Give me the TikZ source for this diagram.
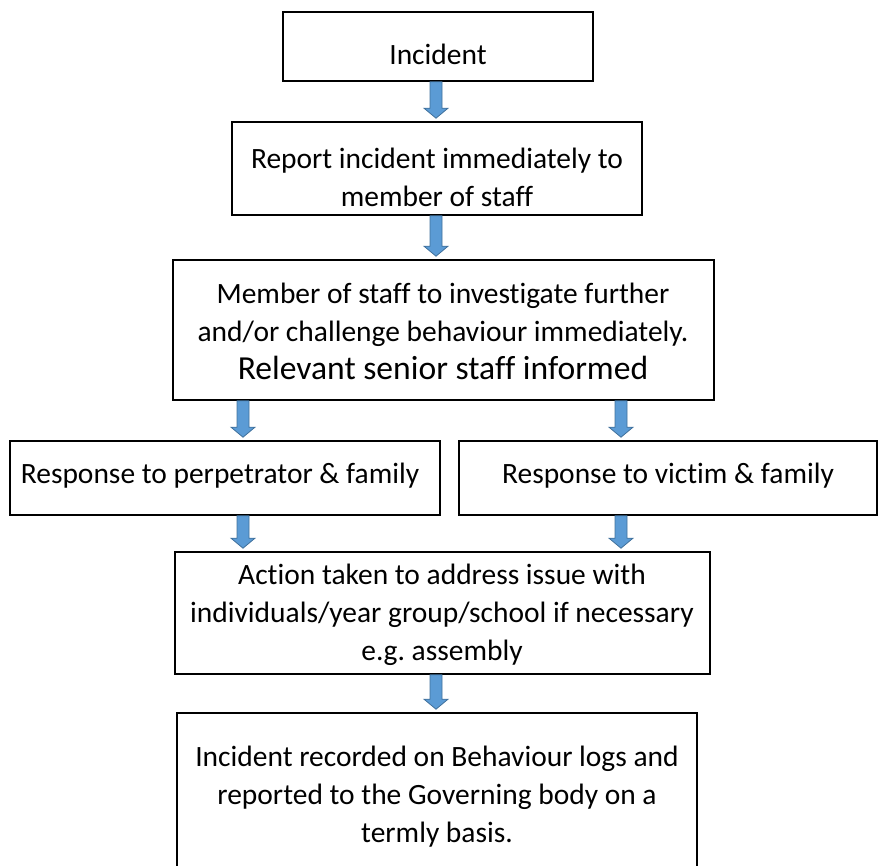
\documentclass[tikz,border=0pt]{standalone}
\usepackage{fontspec}
\setmainfont{Carlito}[Ligatures=CommonOff]
\usetikzlibrary{calc,fit}
\definecolor{arrowfill}{HTML}{5B9BD5}
\definecolor{arrowline}{HTML}{41719C}
\frenchspacing
\begin{document}
\begin{tikzpicture}[x=0.75pt,y=-0.75pt,
  box/.style={draw=black, line width=1.2pt, inner sep=0pt, fill=white},
  txt/.style={inner sep=0pt, align=center, text=black, font=\fontsize{22.1}{28.5}\selectfont},
  blockarrow/.style={fill=arrowfill, draw=arrowline, line width=0.6pt, line join=miter,
    to path={let \p1=(\tikztostart), \p2=(\tikztotarget) in
      (\x1-4.5pt,\y1) -- (\x1-4.5pt,\y2+7.5pt) -- (\x1-9pt,\y2+7.5pt) -- (\x1,\y2)
      -- (\x1+9pt,\y2+7.5pt) -- (\x1+4.5pt,\y2+7.5pt) -- (\x1+4.5pt,\y1) -- cycle}}]
\useasboundingbox (0,0) rectangle (880,865);
\begin{scope}
\clip (0,0) rectangle (880,865);
% boxes
\node[box, fit={(283,12) (593,81)}] (b1) {};
\node[box, fit={(232,122) (642,215)}] (b2) {};
\node[box, fit={(173,260) (714,400)}] (b3) {};
\node[box, fit={(10,441) (440,515)}] (b4L) {};
\node[box, fit={(459,441) (877,515)}] (b4R) {};
\node[box, fit={(175,552) (710,674)}] (b5) {};
\node[box, fit={(177,713) (697,885)}] (b6) {};
% texts
\node[txt] (t1) at (438,54) {Incident};
\node[txt] (t2) at (437,177) {Report incident immediately to\\member of staff};
\node[txt] (t3) at (443,331) {Member of staff to investigate further\\and/or challenge behaviour immediately.\\{\fontsize{25.2}{30}\selectfont Relevant senior staff informed}};
\node[txt] (t4L) at (220,476) {Response to perpetrator \& family};
\node[txt] (t4R) at (668,476) {Response to victim \& family};
\node[txt] (t5) at (442,615) {Action taken to address issue with\\individuals/year group/school if necessary\\e.g. assembly};
\node[txt] (t6) at (437,797) {Incident recorded on Behaviour logs and\\reported to the Governing body on a\\termly basis.};
% arrow columns
\coordinate (cx) at (436,0);
\coordinate (lx) at (243,0);
\coordinate (rx) at (621,0);
% arrows
\path[blockarrow] (b1.south -| cx) to ([yshift=2.25pt]b2.north -| cx);
\path[blockarrow] (b2.south -| cx) to ([yshift=2.25pt]b3.north -| cx);
\path[blockarrow] (b3.south -| lx) to ([yshift=2.25pt]b4L.north -| lx);
\path[blockarrow] (b3.south -| rx) to ([yshift=2.25pt]b4R.north -| rx);
\path[blockarrow] (b4L.south -| lx) to ([yshift=2.25pt]b5.north -| lx);
\path[blockarrow] (b4R.south -| rx) to ([yshift=2.25pt]b5.north -| rx);
\path[blockarrow] (b5.south -| cx) to ([yshift=2.25pt]b6.north -| cx);
\end{scope}
\end{tikzpicture}
\end{document}
